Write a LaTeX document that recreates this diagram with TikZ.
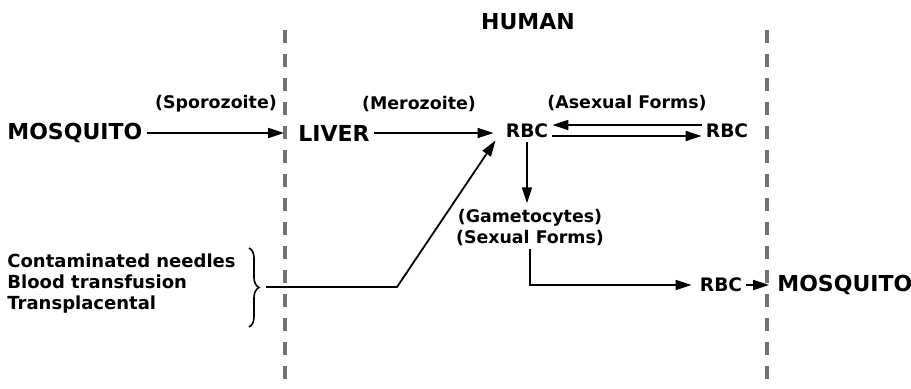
\documentclass[tikz,border=0pt]{standalone}
\usepackage{fontspec}
\setmainfont{DejaVu Sans}
\usepackage{tikz}
\usetikzlibrary{arrows.meta,positioning,decorations.pathreplacing}
\tikzset{
  cycle-host/.style={font=\fontsize{11}{13}\selectfont\bfseries, inner sep=2pt},
  cycle-cell/.style={font=\fontsize{9.3}{11}\selectfont\bfseries, inner sep=2pt},
  cycle-stage/.style={font=\fontsize{8.7}{10.5}\selectfont\bfseries, inner sep=1pt, align=center},
  cycle-route/.style={font=\fontsize{9}{10.5}\selectfont\bfseries, inner sep=2pt, align=left},
  cycle-arrow/.style={-{Triangle[length=8pt,width=5pt]}, line width=0.9pt},
  cycle-divider/.style={draw=black!55, line width=1.7pt, dash pattern=on 6.5pt off 5.5pt},
  cycle-brace/.style={decorate, decoration={brace, amplitude=5pt}, line width=0.8pt}
}

\begin{document}
\begin{tikzpicture}[x=0.5pt, y=-0.5pt]
  \useasboundingbox (0,0) rectangle (911,388);

  % Host boundaries
  \draw[cycle-divider] (285,30) -- (285,388);
  \draw[cycle-divider] (767,30) -- (767,388);
  \node[cycle-host] (human) at (528,22) {HUMAN};

  % Hosts and cells
  \node[cycle-host, anchor=west] (mosquito-in) at (3,133) {MOSQUITO};
  \node[cycle-host, anchor=west] (liver) at (294,133) {LIVER};
  \node[cycle-cell] (rbc-a) at (527,131) {RBC};
  \node[cycle-cell] (rbc-b) at (727,131) {RBC};
  \node[cycle-cell] (rbc-c) at (721,285) {RBC};
  \node[cycle-host, anchor=west] (mosquito-out) at (773,285) {MOSQUITO};

  % Stage labels
  \node[cycle-stage] (sporozoite) at (216,104) {(Sporozoite)};
  \node[cycle-stage] (merozoite) at (419,104) {(Merozoite)};
  \node[cycle-stage] (asexual) at (627,103) {(Asexual Forms)};
  \node[cycle-stage] (gametocytes) at (530,228) {(Gametocytes)\\(Sexual Forms)};

  % Other routes of infection
  \node[cycle-route, anchor=west] (routes) at (3,284)
    {Contaminated needles\\Blood transfusion\\Transplacental};
  \coordinate (brace-top) at (249,248);
  \coordinate (brace-bot) at (249,327);
  \coordinate (brace-tip) at (266,287);
  \coordinate (kink) at (397,287);
  \draw[cycle-brace] (brace-top) -- (brace-bot);

  \draw[cycle-arrow, shorten >=5pt] (mosquito-in) -- (liver);
  \draw[cycle-arrow, shorten >=4pt] (liver.east) -- (liver.east -| rbc-a.west);
  \draw[cycle-arrow] ([yshift=3pt]rbc-b.west) -- ([yshift=3pt]rbc-a.east);
  \draw[cycle-arrow] ([yshift=-2.5pt]rbc-a.east) -- ([yshift=-2.5pt]rbc-b.west);
  \draw[cycle-arrow, shorten >=2pt] (rbc-a.south) -- (rbc-a.south |- gametocytes.north);
  \draw[cycle-arrow, shorten >=2pt] (gametocytes.south) |- (rbc-c.west);
  \draw[cycle-arrow, shorten >=2pt] (rbc-c) -- (mosquito-out);
  \draw[cycle-arrow] (brace-tip) -- (kink) -- ([shift={(-3pt,1pt)}]rbc-a.south west);
\end{tikzpicture}
\end{document}
